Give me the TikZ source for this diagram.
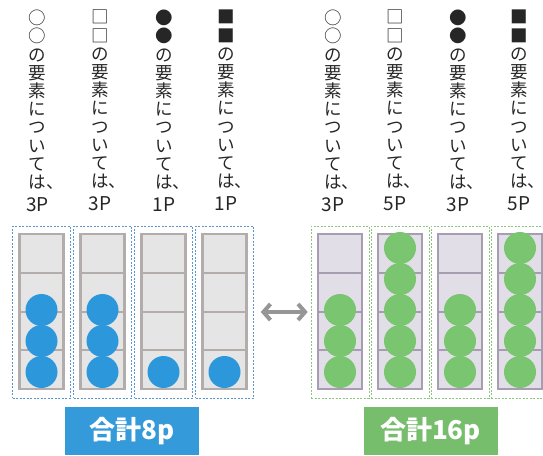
\documentclass[tikz,border=0pt]{standalone}
\usepackage{fontspec}
\setmainfont{Noto Sans CJK JP}
\usetikzlibrary{arrows.meta}
\definecolor{dotblue}{RGB}{44,152,219}
\definecolor{dotgreen}{RGB}{122,197,112}
\definecolor{sumblue}{RGB}{52,154,217}
\definecolor{sumgreen}{RGB}{118,190,108}
\definecolor{frameblue}{RGB}{90,150,205}
\definecolor{framegreen}{RGB}{140,196,128}
\definecolor{tubegray}{RGB}{178,172,170}
\definecolor{tubelilac}{RGB}{166,157,176}
\definecolor{cellgray}{RGB}{229,229,229}
\definecolor{celllilac}{RGB}{226,222,231}
\definecolor{arrowgray}{RGB}{150,150,150}

\begin{document}
\begin{tikzpicture}[x=1pt, y=-1pt,
  frame/.style={draw, dash pattern=on 2pt off 1.5pt, line width=0.6pt, minimum width=58pt, minimum height=172pt, inner sep=0},
  tube/.style={line width=2.6pt},
  word/.style={anchor=north, align=center, inner sep=0, text=black!85, font=\fontsize{17.5}{18.2}\selectfont},
  total/.style={text=white, minimum width=134pt, minimum height=48pt, inner sep=0, font=\fontsize{26}{26}\selectfont\bfseries},
  swap/.style={line width=4pt, draw=arrowgray, {Straight Barb[length=7pt,width=16pt]}-{Straight Barb[length=7pt,width=16pt]}}]
\useasboundingbox (0,0) rectangle (543,455);

\foreach \tx/\sym/\pt [count=\i] in {37.5/○/3P, 100/□/3P, 164/●/1P, 226/■/1P}
 \node[word] (wL\i) at (\tx,10) {\sym\\\sym\\の\\要\\素\\に\\つ\\い\\て\\は\rlap{、}\\[5pt]{\fontsize{19}{19}\selectfont\pt}};
\foreach \tx/\sym/\pt [count=\i] in {333/○/3P, 395/□/5P, 458/●/3P, 519/■/5P}
 \node[word] (wR\i) at (\tx,10) {\sym\\\sym\\の\\要\\素\\に\\つ\\い\\て\\は\rlap{、}\\[5pt]{\fontsize{19}{19}\selectfont\pt}};

\foreach \cx/\n [count=\i] in {41.5/3, 102.5/3, 163.5/1, 224.5/1} {
 \node[frame, draw=frameblue] (L\i) at (\cx,312) {};
 \filldraw[tube, draw=tubegray, fill=cellgray] ({\cx-22},234) rectangle ({\cx+22},389);
 \foreach \yy in {272.75, 311.5, 350.25}
  \draw[tubegray, line width=2pt] ({\cx-22},\yy) -- ({\cx+22},\yy);
 \foreach \k in {1,...,\n}
  \fill[dotblue] (\cx,{372-31*(\k-1)}) circle (16pt);
}

\foreach \cx/\n [count=\i] in {340/3, 400/5, 460/3, 520/5} {
 \node[frame, draw=framegreen] (R\i) at (\cx,312) {};
 \filldraw[tube, draw=tubelilac, fill=celllilac] ({\cx-22},234) rectangle ({\cx+22},389);
 \foreach \yy in {272.75, 311.5, 350.25}
  \draw[tubelilac, line width=2pt] ({\cx-22},\yy) -- ({\cx+22},\yy);
 \foreach \k in {1,...,\n}
  \fill[dotgreen] (\cx,{372-31*(\k-1)}) circle (16pt);
}

\draw[swap] ([xshift=7pt]L4.east) -- ([xshift=-3pt]R1.west);

\node[total, fill=sumblue] (sumL) at (132,431) {合計8p};
\node[total, fill=sumgreen] (sumR) at (430.5,431) {合計16p};
\end{tikzpicture}
\end{document}
